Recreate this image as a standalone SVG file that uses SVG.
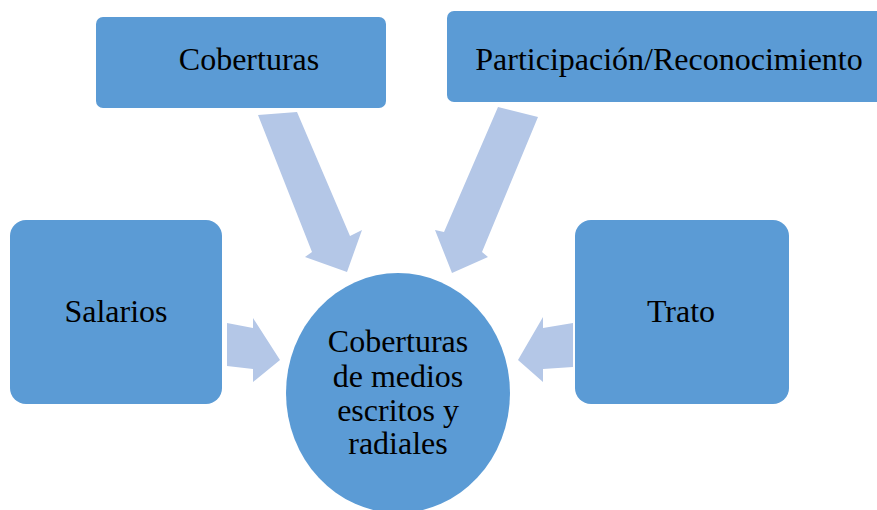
<svg xmlns="http://www.w3.org/2000/svg" width="877" height="510" viewBox="0 0 877 510">
<style>
.box{fill:#5b9bd5;}
.arr{fill:#b4c7e7;}
.t{font-family:"Liberation Serif","Times New Roman",serif;font-size:32px;fill:#000;text-anchor:middle;}
</style>
<rect width="877" height="510" fill="#fff"/>
<g id="connectors">
<polygon class="arr" points="258,115 297,112 350,236 362,230 347,272 305,257 312,252"/>
<polygon class="arr" points="498,107 538,117 482,252 488,257 452,273 435,230 444,232"/>
<polygon class="arr" points="227,323 253,328 253,318 280,360 253,382 253,369 227,366"/>
<polygon class="arr" points="573,323 543,328 543,317 518,360 543,382 543,369 573,367"/>
</g>
<g id="n-coberturas">
<rect class="box" x="96" y="17" width="290" height="91" rx="7"/>
<text class="t" x="249" y="70">Coberturas</text>
</g>
<g id="n-participacion">
<rect class="box" x="447" y="11" width="440" height="91" rx="7"/>
<text class="t" x="669" y="70">Participación/Reconocimiento</text>
</g>
<g id="n-salarios">
<rect class="box" x="10" y="220" width="212" height="184" rx="16"/>
<text class="t" x="116" y="322">Salarios</text>
</g>
<g id="n-trato">
<rect class="box" x="575" y="220" width="214" height="184" rx="16"/>
<text class="t" x="681" y="322">Trato</text>
</g>
<g id="n-centro">
<ellipse class="box" cx="398" cy="393" rx="112" ry="120"/>
<text class="t" x="398" y="352">Coberturas</text>
<text class="t" x="398" y="387">de medios</text>
<text class="t" x="398" y="421">escritos y</text>
<text class="t" x="398" y="454">radiales</text>
</g>
</svg>
